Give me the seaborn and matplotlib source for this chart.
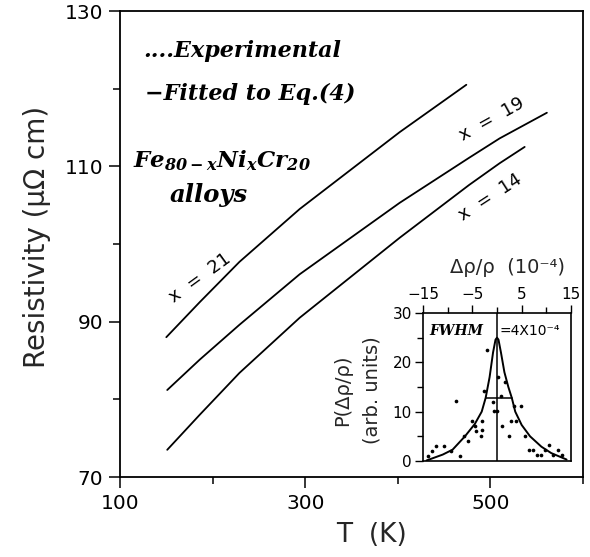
import matplotlib
matplotlib.use("Agg")
import matplotlib.pyplot as plt
import seaborn as sns

# ---------------- data ----------------
# main panel: resistivity (micro-ohm cm) vs temperature (K)
T_x21 = [150, 186, 229, 294, 402, 474]
rho_x21 = [88.0, 92.5, 97.7, 104.5, 114.4, 120.5]
T_x19 = [151, 186, 229, 294, 402, 477, 510, 561]
rho_x19 = [81.2, 85.1, 89.6, 96.1, 105.3, 111.1, 113.6, 116.9]
T_x14 = [151, 186, 229, 294, 402, 477, 510, 537]
rho_x14 = [73.5, 78.0, 83.4, 90.5, 100.8, 107.6, 110.4, 112.5]
curve_labels = ["x  =  21", "x  =  19", "x  =  14"]

x_major = [100, 300, 500]
x_minor = [200, 400, 600]
y_major = [70, 90, 110, 130]
y_minor = [80, 100, 120]

# inset: distribution P(drho/rho)
dx_fit = [-14.3, -11, -9, -6.5, -4.5, -3.1, -2.3, -1.5, -0.8, -0.3, 0,
          0.3, 0.8, 1.5, 2.3, 3.0, 3.7, 5, 6.7, 9, 11, 14.1]
p_fit = [0.1, 1.3, 2.3, 5, 7.5, 10, 12.8, 17, 22, 24.6, 25,
         24.6, 22, 18, 15, 12.8, 10, 7.3, 5, 2.9, 1.6, 0.3]
dx_exp = [-14.05, -13.2, -12.4, -10.7, -9.3, -7.4, -8.4, -6.6, -5.9, -5.0,
          -4.5, -4.2, -3.2, -3.0, -3.1, -2.6, -2.1, -0.8, -0.7, 0.3, 0.8,
          1.6, 0.1, 1.1, 2.4, 2.8, 3.9, 3.4, 4.9, 5.7, 6.5, 7.3, 8.1, 8.9,
          9.7, 10.5, 11.4, 12.3, 13.1]
p_exp = [1.1, 2.1, 3.1, 3.1, 2.1, 1.1, 12.2, 5.1, 4.1, 8.2,
         7.1, 6.1, 5.1, 6.3, 8.1, 14.2, 22.6, 12.0, 10.2, 17.1, 13.2,
         16.1, 10.1, 7.1, 5.1, 8.1, 8.1, 11.1, 11.1, 5.1, 2.2, 2.2, 1.2, 1.2,
         2.2, 3.2, 1.2, 2.2, 1.2]
fwhm_x = [-2.3, 3.0]
half_max = 12.8
in_x_major = [-15, -5, 5, 15]
in_x_minor = [-10, 0, 10]
in_y_major = [0, 10, 20, 30]
in_y_minor = [5, 15, 25]

# ---------------- style ----------------
sns.set_style("ticks")
plt.rcParams["font.family"] = ["DejaVu Sans"]
plt.rcParams["mathtext.fontset"] = "custom"
plt.rcParams["mathtext.rm"] = "DejaVu Serif:italic:bold"
plt.rcParams["mathtext.it"] = "DejaVu Serif:italic:bold"
plt.rcParams["mathtext.bf"] = "DejaVu Serif:italic:bold"
plt.rcParams["axes.edgecolor"] = "black"
plt.rcParams["xtick.color"] = "black"
plt.rcParams["ytick.color"] = "black"

W, H = 590, 557
fig = plt.figure(figsize=(W / 100, H / 100), dpi=100)
fig.patch.set_facecolor("white")

# ---------------- main axes ----------------
ax = fig.add_axes([120 / W, 1 - 477 / H, 463 / W, 466 / H])
for T, r in [(T_x21, rho_x21), (T_x19, rho_x19), (T_x14, rho_x14)]:
    sns.lineplot(x=T, y=r, ax=ax, color="black", lw=1.3,
                 estimator=None, sort=False)
ax.set_xlim(100, 600)
ax.set_ylim(70, 130)
ax.set_xticks(x_major)
ax.set_xticks(x_minor, minor=True)
ax.set_yticks(y_major)
ax.set_yticks(y_minor, minor=True)
ax.tick_params(which="major", direction="out", length=8, width=1.1,
               labelsize=14.5, pad=4)
ax.tick_params(which="minor", direction="out", length=5, width=1.1)
for s in ax.spines.values():
    s.set_linewidth(1.3)
    s.set_visible(True)

ax.set_xlabel("T  (K)", fontsize=19)
ax.xaxis.set_label_coords(0.544, -0.097)
ax.set_ylabel("Resistivity (μΩ cm)", fontsize=20)
ax.yaxis.set_label_coords(-0.149, 0.515)

serif = dict(family="DejaVu Serif", style="italic", weight="bold",
             color="black")
ax.text(125, 124.1, "....Experimental", fontsize=16, ha="left",
        va="baseline", **serif)
ax.text(127, 118.5, "\u2212Fitted to Eq.(4)", fontsize=16, ha="left",
        va="baseline", **serif)
ax.text(114, 109.8, r"$Fe_{80-x}Ni_{x}Cr_{20}$", fontsize=16.5, ha="left",
        va="baseline", color="black")
ax.text(154, 105.4, "alloys", fontsize=17.5, ha="left", va="baseline",
        **serif)

label_pos = [(186, 95.6, 36), (502, 116.0, 29), (500, 106.0, 33)]
for txt, (tx, ty, rot) in zip(curve_labels, label_pos):
    ax.text(tx, ty, txt, fontsize=13, rotation=rot, rotation_mode="anchor",
            ha="center", va="center", color="black")

# ---------------- inset ----------------
axin = fig.add_axes([423 / W, 1 - 461 / H, 148 / W, 148 / H])
axin.set_facecolor("white")
sns.lineplot(x=dx_fit, y=p_fit, ax=axin, color="black", lw=1.4,
             estimator=None, sort=False)
sns.scatterplot(x=dx_exp, y=p_exp, ax=axin, color="black", s=7,
                marker="o", linewidth=0)
axin.axvline(0, color="black", lw=1.1)
axin.plot(fwhm_x, [half_max, half_max], color="black", lw=1.1)
axin.set_xlim(-15, 15)
axin.set_ylim(0, 30)
axin.xaxis.tick_top()
axin.xaxis.set_label_position("top")
axin.set_xticks(in_x_major)
axin.set_xticks(in_x_minor, minor=True)
axin.set_yticks(in_y_major)
axin.set_yticks(in_y_minor, minor=True)
axin.tick_params(which="major", direction="out", length=6, width=1,
                 labelsize=11, pad=2)
axin.tick_params(which="minor", direction="out", length=4, width=1)
for s in axin.spines.values():
    s.set_linewidth(1.2)
    s.set_visible(True)
axin.set_xlabel("Δρ/ρ  (10⁻⁴)", fontsize=14)
axin.xaxis.set_label_coords(0.574, 1.27)
axin.set_ylabel("P(Δρ/ρ)\n(arb. units)", fontsize=14, linespacing=1.7)
axin.yaxis.set_label_coords(-0.28, 0.48)
axin.text(-13.7, 26.4, "FWHM", fontsize=10, ha="left", va="center",
          **serif)
axin.text(0.6, 26.4, "=4X10⁻⁴", fontsize=10, ha="left", va="center",
          color="black")

fig.savefig("out.png", dpi=100, facecolor="white")
